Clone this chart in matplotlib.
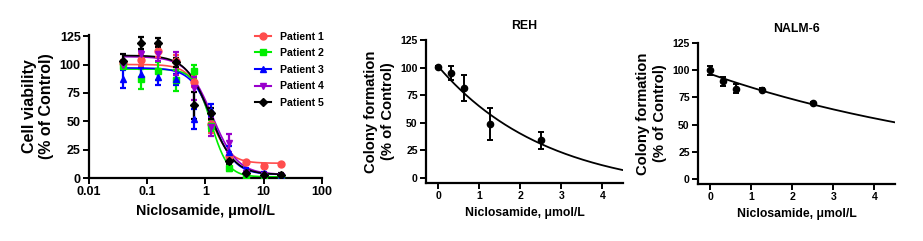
import numpy as np
import matplotlib
matplotlib.use("Agg")
import matplotlib.pyplot as plt

plt.rcParams["font.family"] = ["Liberation Sans", "DejaVu Sans"]
plt.rcParams["font.weight"] = "bold"

# patient dose-response (log x)
conc = [0.039, 0.078, 0.156, 0.3125, 0.625, 1.25, 2.5, 5, 10, 20]
patients = ["Patient 1", "Patient 2", "Patient 3", "Patient 4", "Patient 5"]
viability = [
    [101, 104, 112, 103, 85, 48, 19, 14, 11, 12],
    [99, 87, 94, 86, 94, 46, 9, 1, 2, 0],
    [87, 92, 89, 87, 52, 60, 23, 7, 4, 2],
    [100, 109, 109, 101, 79, 45, 31, 4, 3, 2],
    [103, 119, 119, 102, 64, 57, 15, 4, 3, 3],
]
viability_err = [
    [3, 5, 5, 5, 5, 8, 4, 1, 1, 1],
    [3, 9, 8, 9, 6, 5, 3, 1, 1, 1],
    [8, 5, 7, 5, 9, 5, 5, 2, 1, 1],
    [3, 4, 6, 10, 10, 8, 8, 2, 1, 1],
    [6, 5, 4, 4, 12, 5, 3, 1, 1, 1],
]
# 4PL fit parameters: top, bottom, IC50, hill
fit_top = [100, 96, 97, 107, 108]
fit_bottom = [13, 1, 3, 3, 3]
fit_ic50 = [1.15, 1.25, 1.35, 1.3, 1.2]
fit_hill = [2.6, 3.0, 2.3, 2.0, 2.1]
colors = ["#ff4d4d", "#00ee00", "#0000ff", "#9900cc", "#000000"]
markers = ["o", "s", "^", "v", "D"]

# colony formation (linear x)
col_conc = [0, 0.3125, 0.625, 1.25, 2.5]
reh = [100.3, 95, 81.4, 49.2, 34.2]
reh_err = [1, 6.6, 12, 14.4, 7.8]
nalm6 = [99.7, 89.5, 83, 82, 70]
nalm6_err = [4, 4, 4, 1.5, 1]
# exponential decay fits: start, plateau, rate
reh_fit = (101, -14, 0.376)
nalm6_fit = (96.4, 0, 0.137)


def style(ax, fs):
    for s in ["top", "right"]:
        ax.spines[s].set_visible(False)
    for s in ["left", "bottom"]:
        ax.spines[s].set_linewidth(1.6)
    ax.tick_params(width=1.4, length=4, labelsize=fs, pad=2)
    for lab in ax.get_xticklabels() + ax.get_yticklabels():
        lab.set_fontweight("bold")


fig = plt.figure(figsize=(9.23, 2.41), dpi=100)

# panel 1
ax1 = fig.add_axes([0.0964, 0.2614, 0.2524, 0.5934])
xs = np.logspace(np.log10(conc[0]), np.log10(conc[-1]), 200)
for i, name in enumerate(patients):
    ms = 5 if markers[i] != "D" else 4
    ax1.errorbar(conc, viability[i], yerr=viability_err[i], fmt=markers[i],
                 color=colors[i], ms=ms, elinewidth=1.6, capsize=2.5,
                 capthick=1.6, zorder=3)
    fit = fit_bottom[i] + (fit_top[i] - fit_bottom[i]) / (1 + (xs / fit_ic50[i]) ** fit_hill[i])
    ax1.plot(xs, fit, color=colors[i], lw=1.2, zorder=2)
    ax1.plot([], [], color=colors[i], marker=markers[i], lw=1.5, ms=ms, label=name)
ax1.set_xscale("log")
ax1.set_xlim(0.01, 100)
ax1.set_ylim(0, 126)
ax1.set_xticks([0.01, 0.1, 1, 10, 100])
ax1.set_xticklabels(["0.01", "0.1", "1", "10", "100"])
ax1.xaxis.set_minor_locator(matplotlib.ticker.NullLocator())
ax1.set_yticks([0, 25, 50, 75, 100, 125])
style(ax1, 9)
ax1.set_xlabel("Niclosamide, μmol/L", fontsize=10.3, fontweight="bold", labelpad=4)
ax1.set_ylabel("Cell viability\n(% of Control)", fontsize=11.5, fontweight="bold", labelpad=4)
leg = ax1.legend(loc="upper left", bbox_to_anchor=(0.67, 1.09), frameon=False,
                 prop={"size": 7.6, "weight": "bold"}, handlelength=1.6,
                 labelspacing=0.62, handletextpad=0.8)

# colony panels
xc = np.linspace(0, 4.5, 200)
panels = [
    ([0.4615, 0.2407, 0.2134, 0.5934], "REH", reh, reh_err, reh_fit),
    ([0.7562, 0.2365, 0.2134, 0.5860], "NALM-6", nalm6, nalm6_err, nalm6_fit),
]
for rect, title, vals, errs, (y0, plateau, k) in panels:
    ax = fig.add_axes(rect)
    ax.errorbar(col_conc, vals, yerr=errs, fmt="o", color="black", ms=4.5,
                elinewidth=1.4, capsize=2.2, capthick=1.4, zorder=3)
    ax.plot(xc, plateau + (y0 - plateau) * np.exp(-k * xc), color="black", lw=1.3)
    ax.set_xlim(-0.3, 4.5)
    ax.set_ylim(-4.5, 125)
    ax.set_xticks([0, 1, 2, 3, 4])
    ax.set_yticks([0, 25, 50, 75, 100, 125])
    style(ax, 7.6)
    ax.set_title(title, fontsize=8.8, fontweight="bold", pad=8)
    ax.set_xlabel("Niclosamide, μmol/L", fontsize=8.8, fontweight="bold", labelpad=4)
    ax.set_ylabel("Colony formation\n(% of Control)", fontsize=10.6, fontweight="bold", labelpad=4)

fig.savefig("out.png", dpi=100)
